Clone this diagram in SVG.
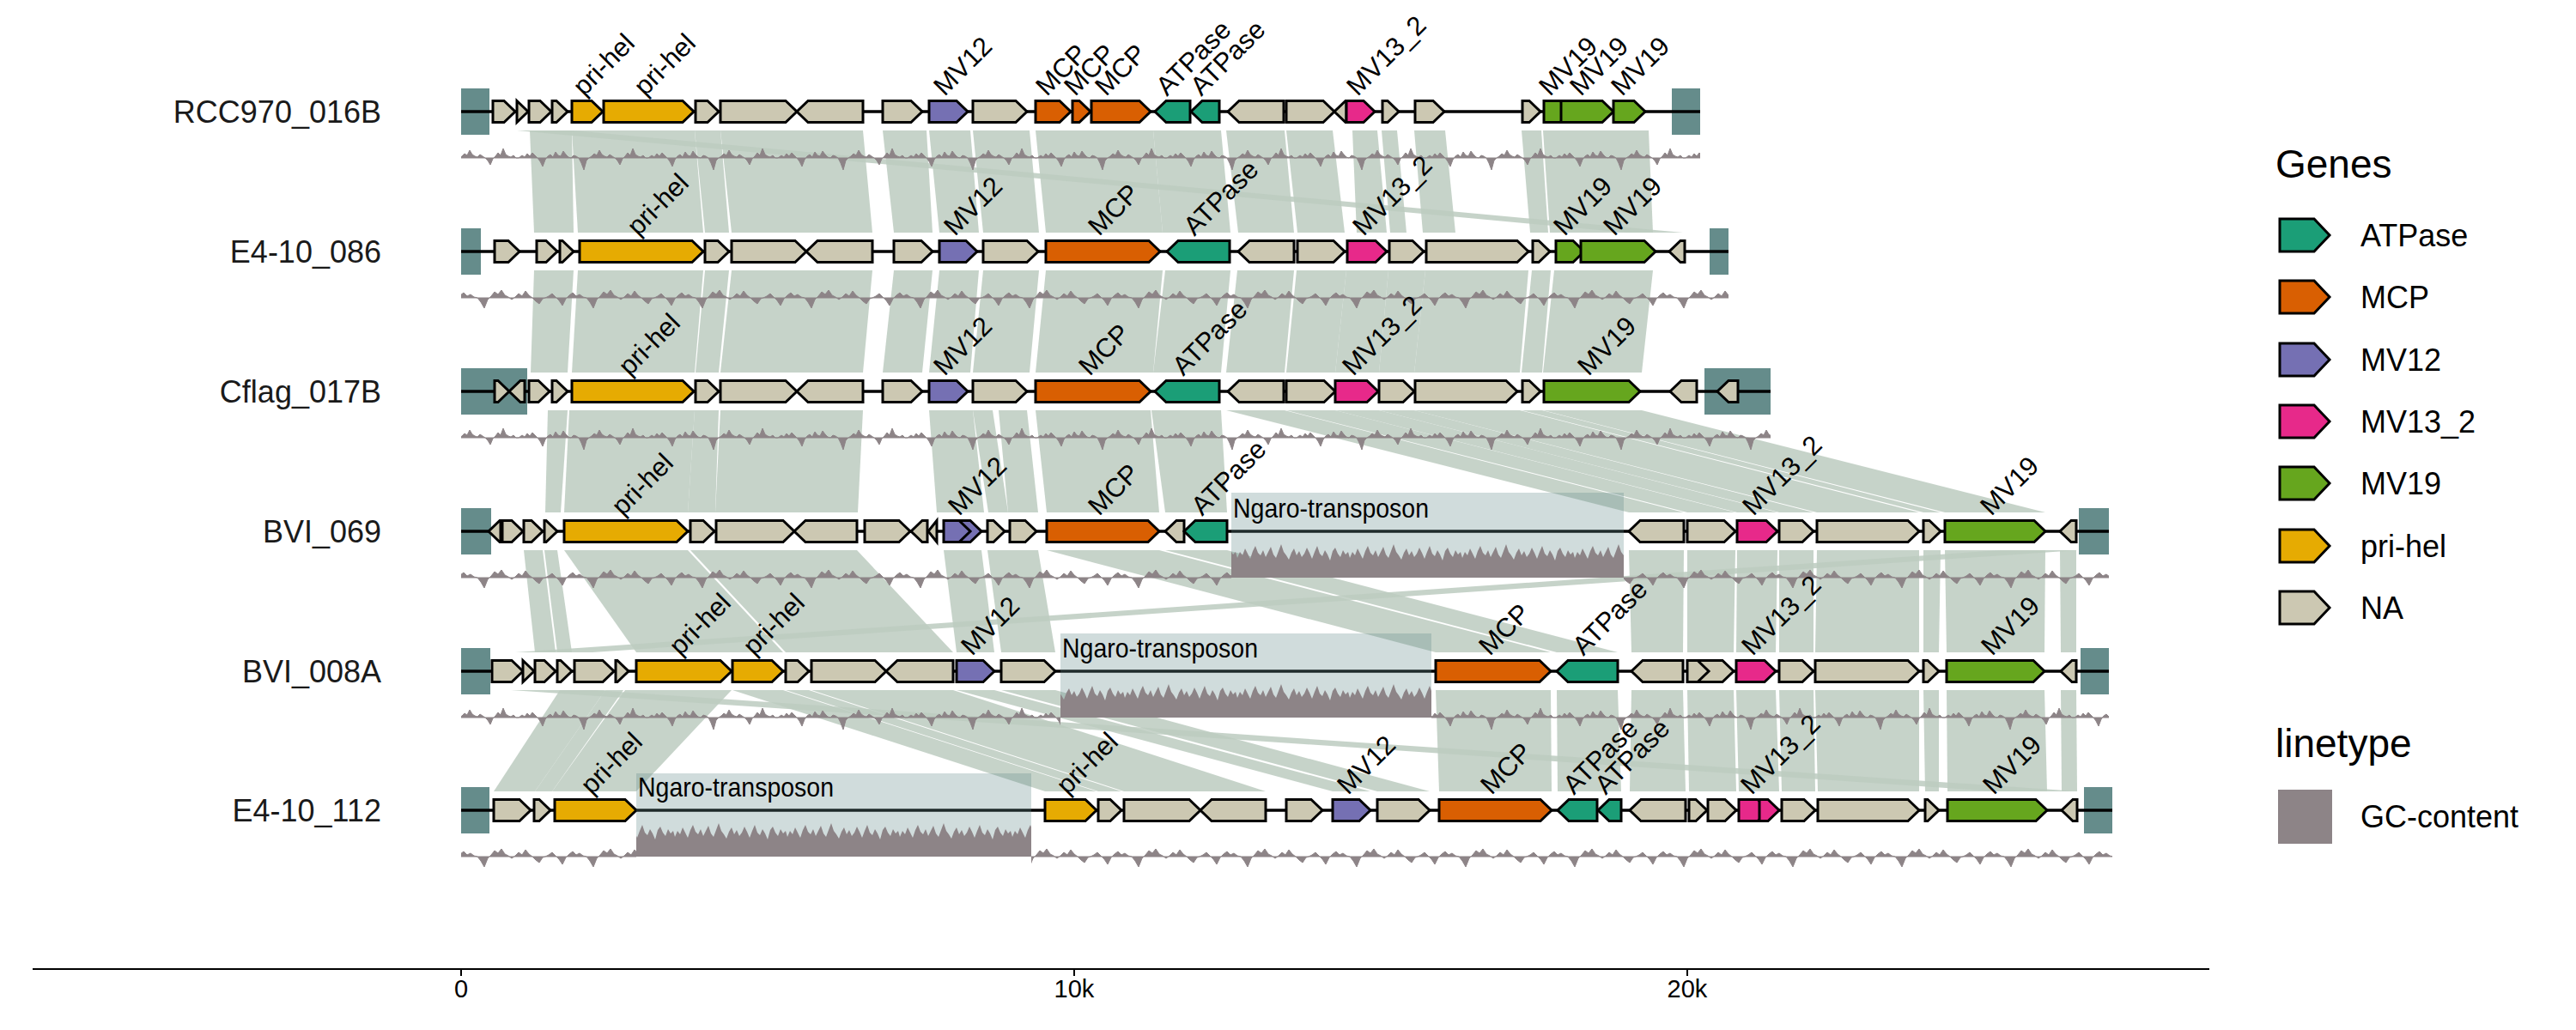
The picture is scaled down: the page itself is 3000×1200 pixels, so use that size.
<svg xmlns="http://www.w3.org/2000/svg" width="3000" height="1200" viewBox="0 0 3000 1200">
<style>
.g{stroke:#000;stroke-width:3;stroke-linejoin:miter}
.na{fill:#ccc8b2}.pri{fill:#e6ab02}.mv12{fill:#7570b3}.mcp{fill:#d95f02}.atp{fill:#1b9e77}.mv13{fill:#e7298a}.mv19{fill:#66a61e}
.seq{stroke:#000;stroke-width:3.5}
.end{fill:#658c8b}
.ngaro{fill:#658c8b;fill-opacity:.3}
#links polygon{fill:#bccbbf;fill-opacity:.85}
.tag{font-family:"Liberation Sans",Arial,sans-serif;font-size:31px;fill:#000}
.ntag{font-family:"Liberation Sans",Arial,sans-serif;font-size:32px;fill:#000}
.lbl{font-family:"Liberation Sans",Arial,sans-serif;font-size:36px;fill:#1a1a1a;text-anchor:end}
.leg{font-family:"Liberation Sans",Arial,sans-serif;font-size:36px;fill:#000}
.legt{font-family:"Liberation Sans",Arial,sans-serif;font-size:46px;fill:#000}
.ax{font-family:"Liberation Sans",Arial,sans-serif;font-size:29px;fill:#000;text-anchor:middle}
</style>
<defs>
<pattern id="gcA" patternUnits="userSpaceOnUse" x="0" y="-40" width="151" height="80">
<path d="M0,40 L4,37 7,39 10,35 13,38 16,34 19,37 22,40 25,44 28,50 31,42 34,38 37,36 40,39 43,33 46,37 49,38 52,32 55,36 58,39 61,40 64,37 67,38 70,40 73,46 76,54 79,43 82,40 85,38 88,35 91,37 94,31 97,36 100,38 103,39 106,36 109,38 112,40 115,43 118,48 121,41 124,38 127,34 130,37 133,29 136,36 139,38 142,39 145,37 148,40 151,40 Z" fill="#8d8487" stroke="#8d8487" stroke-width="1"/>
</pattern>
<pattern id="gcB" patternUnits="userSpaceOnUse" x="0" y="-40" width="127" height="80">
<path d="M0,40 L4,38 8,35 12,39 16,43 20,49 24,41 28,37 32,34 36,38 40,36 44,39 48,40 52,45 56,52 60,42 64,38 68,33 72,36 76,31 80,37 84,39 88,42 92,39 96,35 100,38 104,32 108,37 112,40 116,44 120,47 124,41 127,40 Z" fill="#8d8487" stroke="#8d8487" stroke-width="1"/>
</pattern>
<pattern id="gcH" patternUnits="userSpaceOnUse" x="0" y="-40" width="131" height="80">
<path d="M0,40 L0,17 3,10 6,14 9,6 12,12 15,18 18,9 21,3 24,11 27,14 30,8 33,16 36,10 39,4 42,13 45,17 48,9 51,1 54,10 57,14 60,19 63,11 66,6 69,14 72,9 75,16 78,12 81,5 84,11 87,18 90,10 93,3 96,12 99,15 102,8 105,13 108,20 111,9 114,5 117,12 120,16 123,8 126,13 129,10 131,17 131,40 Z" fill="#8d8487"/>
</pattern>
</defs>
<rect width="3000" height="1200" fill="#fff"/>

<g id="links">
<polygon points="617,152 666,152 668,271 622,271"/>
<polygon points="666,152 809,152 819,271 673,271"/>
<polygon points="809,152 839,152 849,271 821,271"/>
<polygon points="839,152 1005,152 1016,271 852,271"/>
<polygon points="1028,152 1079,152 1086,271 1041,271"/>
<polygon points="1082,152 1130,152 1140,271 1094,271"/>
<polygon points="1133,152 1199,152 1210,271 1145,271"/>
<polygon points="1206,152 1343,152 1354,271 1218,271"/>
<polygon points="1343,152 1422,152 1433,271 1354,271"/>
<polygon points="1428,152 1496,152 1507,271 1442,271"/>
<polygon points="1498,152 1552,152 1566,271 1511,271"/>
<polygon points="1575,152 1604,152 1615,271 1580,271"/>
<polygon points="1609,152 1627,152 1638,271 1619,271"/>
<polygon points="1647,152 1683,152 1695,271 1657,271"/>
<polygon points="1772,152 1795,152 1803,271 1782,271"/>
<polygon points="1797,152 1920,152 1925,271 1805,271"/>
<polygon points="602,152 667,152 1960,271 1895,271"/>

<polygon points="622,315 668,315 661,434 618,434"/>
<polygon points="673,315 819,315 809,434 666,434"/>
<polygon points="821,315 849,315 837,434 810,434"/>
<polygon points="852,315 1016,315 1005,434 839,434"/>
<polygon points="1041,315 1086,315 1074,434 1028,434"/>
<polygon points="1094,315 1140,315 1130,434 1082,434"/>
<polygon points="1145,315 1210,315 1199,434 1133,434"/>
<polygon points="1218,315 1354,315 1343,434 1206,434"/>
<polygon points="1357,315 1433,315 1422,434 1343,434"/>
<polygon points="1441,315 1507,315 1496,434 1428,434"/>
<polygon points="1510,315 1568,315 1555,434 1498,434"/>
<polygon points="1568,315 1617,315 1606,434 1555,434"/>
<polygon points="1617,315 1660,315 1647,434 1606,434"/>
<polygon points="1660,315 1780,315 1770,434 1647,434"/>
<polygon points="1784,315 1806,315 1796,434 1772,434"/>
<polygon points="1810,315 1925,315 1912,434 1797,434"/>

<polygon points="638,478 661,478 653,597 635,597"/>
<polygon points="663,478 809,478 801,597 657,597"/>
<polygon points="809,478 837,478 833,597 801,597"/>
<polygon points="839,478 1005,478 999,597 833,597"/>
<polygon points="1082,478 1133,478 1146,597 1091,597"/>
<polygon points="1133,478 1156,478 1174,597 1151,597"/>
<polygon points="1163,478 1196,478 1209,597 1174,597"/>
<polygon points="1206,478 1340,478 1350,597 1219,597"/>
<polygon points="1341,478 1422,478 1429,597 1357,597"/>
<polygon points="1428,478 1496,478 1961,597 1897,597"/>
<polygon points="1498,478 1555,478 2021,597 1965,597"/>
<polygon points="1555,478 1606,478 2070,597 2023,597"/>
<polygon points="1606,478 1647,478 2112,597 2072,597"/>
<polygon points="1647,478 1770,478 2235,597 2116,597"/>
<polygon points="1772,478 1796,478 2260,597 2240,597"/>
<polygon points="1797,478 1912,478 2382,597 2265,597"/>

<polygon points="610,641 632,641 647,760 623,760"/>
<polygon points="634,641 649,641 666,760 649,760"/>
<polygon points="657,641 801,641 912,760 741,760"/>
<polygon points="804,641 998,641 1110,760 915,760"/>
<polygon points="1099,641 1143,641 1158,760 1114,760"/>
<polygon points="1150,641 1209,641 1229,760 1166,760"/>
<polygon points="1219,641 1350,641 1806,760 1672,760"/>
<polygon points="1357,641 1429,641 1884,760 1813,760"/>
<polygon points="1897,641 1961,641 1960,760 1900,760"/>
<polygon points="1965,641 2021,641 2019,760 1965,760"/>
<polygon points="2023,641 2070,641 2068,760 2022,760"/>
<polygon points="2072,641 2112,641 2112,760 2072,760"/>
<polygon points="2116,641 2235,641 2235,760 2114,760"/>
<polygon points="2240,641 2260,641 2258,760 2240,760"/>
<polygon points="2265,641 2382,641 2381,760 2267,760"/>
<polygon points="2399,641 2418,641 2418,760 2400,760"/>
<polygon points="2330,641 2420,641 690,760 600,760"/>

<polygon points="652,804 705,804 623,922 575,922"/>
<polygon points="705,804 726,804 643,922 623,922"/>
<polygon points="728,804 852,804 741,922 643,922"/>
<polygon points="853,804 912,804 1277,922 1217,922"/>
<polygon points="915,804 942,804 1306,922 1279,922"/>
<polygon points="945,804 1110,804 1474,922 1309,922"/>
<polygon points="1114,804 1158,804 1596,922 1552,922"/>
<polygon points="1166,804 1229,804 1665,922 1604,922"/>
<polygon points="1672,804 1806,804 1807,922 1676,922"/>
<polygon points="1813,804 1884,804 1888,922 1814,922"/>
<polygon points="1900,804 1960,804 1963,922 1898,922"/>
<polygon points="1965,804 2019,804 2022,922 1967,922"/>
<polygon points="2022,804 2068,804 2072,922 2025,922"/>
<polygon points="2072,804 2112,804 2114,922 2075,922"/>
<polygon points="2114,804 2235,804 2235,922 2117,922"/>
<polygon points="2240,804 2258,804 2258,922 2242,922"/>
<polygon points="2267,804 2381,804 2384,922 2268,922"/>
<polygon points="2400,804 2418,804 2419,922 2401,922"/>
<polygon points="595,804 690,804 2420,922 2325,922"/>
</g>

<g id="RCC970_016B">
<text class="lbl" x="444" y="143">RCC970_016B</text>
<g transform="translate(0,130)">
<rect class="end" x="537" y="-27" width="33" height="54"/>
<rect class="end" x="1947" y="-27" width="33" height="54"/>
<line class="seq" x1="537" y1="0" x2="1980" y2="0"/>
<path class="g na" d="M574,-12.5h13l13,12.5l-13,12.5h-13z"/>
<path class="g na" d="M602,-12.5l13,12.5l-13,12.5z"/>
<path class="g na" d="M616,-12.5h13l13,12.5l-13,12.5h-13z"/>
<path class="g na" d="M643,-12.5h5l13,12.5l-13,12.5h-5z"/>
<path class="g pri" d="M666,-12.5h23l13,12.5l-13,12.5h-23z"/>
<path class="g pri" d="M703,-12.5h92l13,12.5l-13,12.5h-92z"/>
<path class="g na" d="M810,-12.5h14l13,12.5l-13,12.5h-14z"/>
<path class="g na" d="M839,-12.5h76l13,12.5l-13,12.5h-76z"/>
<path class="g na" d="M1005,-12.5h-64l-13,12.5l13,12.5h64z"/>
<path class="g na" d="M1028,-12.5h33l13,12.5l-13,12.5h-33z"/>
<path class="g mv12" d="M1082,-12.5h32l13,12.5l-13,12.5h-32z"/>
<path class="g na" d="M1133,-12.5h50l13,12.5l-13,12.5h-50z"/>
<path class="g mcp" d="M1206,-12.5h28l13,12.5l-13,12.5h-28z"/>
<path class="g mcp" d="M1249,-12.5h8l13,12.5l-13,12.5h-8z"/>
<path class="g mcp" d="M1271,-12.5h56l13,12.5l-13,12.5h-56z"/>
<path class="g atp" d="M1386,-12.5h-28l-13,12.5l13,12.5h28z"/>
<path class="g atp" d="M1420,-12.5h-20l-13,12.5l13,12.5h20z"/>
<path class="g na" d="M1495,-12.5h-52l-13,12.5l13,12.5h52z"/>
<path class="g na" d="M1498,-12.5h43l13,12.5l-13,12.5h-43z"/>
<path class="g na" d="M1568,-12.5h-1l-13,12.5l13,12.5h1z"/>
<path class="g mv13" d="M1568,-12.5h20l13,12.5l-13,12.5h-20z"/>
<path class="g na" d="M1610,-12.5h6l13,12.5l-13,12.5h-6z"/>
<path class="g na" d="M1648,-12.5h21l13,12.5l-13,12.5h-21z"/>
<path class="g na" d="M1773,-12.5h8l13,12.5l-13,12.5h-8z"/>
<path class="g mv19" d="M1798,-12.5h19l13,12.5l-13,12.5h-19z"/>
<path class="g mv19" d="M1818,-12.5h48l13,12.5l-13,12.5h-48z"/>
<path class="g mv19" d="M1879,-12.5h24l13,12.5l-13,12.5h-24z"/>
</g>
<g transform="translate(0,184)"><rect x="537" y="-40" width="1443" height="80" fill="url(#gcA)"/></g>
<text class="tag" transform="translate(680,113) rotate(-45)">pri-hel</text>
<text class="tag" transform="translate(751,113) rotate(-45)">pri-hel</text>
<text class="tag" transform="translate(1100,113) rotate(-45)">MV12</text>
<text class="tag" transform="translate(1219,113) rotate(-45)">MCP</text>
<text class="tag" transform="translate(1252,113) rotate(-45)">MCP</text>
<text class="tag" transform="translate(1288,113) rotate(-45)">MCP</text>
<text class="tag" transform="translate(1359,113) rotate(-45)">ATPase</text>
<text class="tag" transform="translate(1399,113) rotate(-45)">ATPase</text>
<text class="tag" transform="translate(1581,113) rotate(-45)">MV13_2</text>
<text class="tag" transform="translate(1805,113) rotate(-45)">MV19</text>
<text class="tag" transform="translate(1841,113) rotate(-45)">MV19</text>
<text class="tag" transform="translate(1889,113) rotate(-45)">MV19</text>
</g>

<g id="E4-10_086">
<text class="lbl" x="444" y="306">E4-10_086</text>
<g transform="translate(0,293)">
<rect class="end" x="537" y="-27" width="23" height="54"/>
<rect class="end" x="1991" y="-27" width="22" height="54"/>
<line class="seq" x1="537" y1="0" x2="2013" y2="0"/>
<path class="g na" d="M576,-12.5h16l13,12.5l-13,12.5h-16z"/>
<path class="g na" d="M625,-12.5h11l13,12.5l-13,12.5h-11z"/>
<path class="g na" d="M652,-12.5h3l13,12.5l-13,12.5h-3z"/>
<path class="g pri" d="M675,-12.5h131l13,12.5l-13,12.5h-131z"/>
<path class="g na" d="M821,-12.5h15l13,12.5l-13,12.5h-15z"/>
<path class="g na" d="M852,-12.5h74l13,12.5l-13,12.5h-74z"/>
<path class="g na" d="M1016,-12.5h-64l-13,12.5l13,12.5h64z"/>
<path class="g na" d="M1041,-12.5h32l13,12.5l-13,12.5h-32z"/>
<path class="g mv12" d="M1094,-12.5h31l13,12.5l-13,12.5h-31z"/>
<path class="g na" d="M1145,-12.5h51l13,12.5l-13,12.5h-51z"/>
<path class="g mcp" d="M1218,-12.5h120l13,12.5l-13,12.5h-120z"/>
<path class="g atp" d="M1432,-12.5h-60l-13,12.5l13,12.5h60z"/>
<path class="g na" d="M1507,-12.5h-52l-13,12.5l13,12.5h52z"/>
<path class="g na" d="M1511,-12.5h42l13,12.5l-13,12.5h-42z"/>
<path class="g mv13" d="M1569,-12.5h33l13,12.5l-13,12.5h-33z"/>
<path class="g na" d="M1618,-12.5h27l13,12.5l-13,12.5h-27z"/>
<path class="g na" d="M1661,-12.5h106l13,12.5l-13,12.5h-106z"/>
<path class="g na" d="M1785,-12.5h7l13,12.5l-13,12.5h-7z"/>
<path class="g mv19" d="M1812,-12.5h20l13,12.5l-13,12.5h-20z"/>
<path class="g mv19" d="M1841,-12.5h74l13,12.5l-13,12.5h-74z"/>
<path class="g na" d="M1962,-12.5h-5l-13,12.5l13,12.5h5z"/>
</g>
<g transform="translate(0,347)"><rect x="537" y="-40" width="1476" height="80" fill="url(#gcB)"/></g>
<text class="tag" transform="translate(743,276) rotate(-45)">pri-hel</text>
<text class="tag" transform="translate(1112,276) rotate(-45)">MV12</text>
<text class="tag" transform="translate(1280,276) rotate(-45)">MCP</text>
<text class="tag" transform="translate(1391,276) rotate(-45)">ATPase</text>
<text class="tag" transform="translate(1588,276) rotate(-45)">MV13_2</text>
<text class="tag" transform="translate(1822,276) rotate(-45)">MV19</text>
<text class="tag" transform="translate(1880,276) rotate(-45)">MV19</text>
</g>

<g id="Cflag_017B">
<text class="lbl" x="444" y="469">Cflag_017B</text>
<g transform="translate(0,456)">
<rect class="end" x="537" y="-27" width="77" height="54"/>
<rect class="end" x="1985" y="-27" width="77" height="54"/>
<line class="seq" x1="537" y1="0" x2="2062" y2="0"/>
<path class="g na" d="M576,-12.5h4l13,12.5l-13,12.5h-4z"/>
<path class="g na" d="M611,-12.5h-5l-13,12.5l13,12.5h5z"/>
<path class="g na" d="M616,-12.5h11l13,12.5l-13,12.5h-11z"/>
<path class="g na" d="M643,-12.5h5l13,12.5l-13,12.5h-5z"/>
<path class="g pri" d="M666,-12.5h129l13,12.5l-13,12.5h-129z"/>
<path class="g na" d="M810,-12.5h14l13,12.5l-13,12.5h-14z"/>
<path class="g na" d="M839,-12.5h76l13,12.5l-13,12.5h-76z"/>
<path class="g na" d="M1005,-12.5h-64l-13,12.5l13,12.5h64z"/>
<path class="g na" d="M1028,-12.5h33l13,12.5l-13,12.5h-33z"/>
<path class="g mv12" d="M1082,-12.5h32l13,12.5l-13,12.5h-32z"/>
<path class="g na" d="M1133,-12.5h50l13,12.5l-13,12.5h-50z"/>
<path class="g mcp" d="M1206,-12.5h121l13,12.5l-13,12.5h-121z"/>
<path class="g atp" d="M1420,-12.5h-62l-13,12.5l13,12.5h62z"/>
<path class="g na" d="M1495,-12.5h-52l-13,12.5l13,12.5h52z"/>
<path class="g na" d="M1498,-12.5h44l13,12.5l-13,12.5h-44z"/>
<path class="g mv13" d="M1555,-12.5h37l13,12.5l-13,12.5h-37z"/>
<path class="g na" d="M1606,-12.5h28l13,12.5l-13,12.5h-28z"/>
<path class="g na" d="M1648,-12.5h106l13,12.5l-13,12.5h-106z"/>
<path class="g na" d="M1773,-12.5h8l13,12.5l-13,12.5h-8z"/>
<path class="g mv19" d="M1798,-12.5h99l13,12.5l-13,12.5h-99z"/>
<path class="g na" d="M1976,-12.5h-18l-13,12.5l13,12.5h18z"/>
<path class="g na" d="M2024,-12.5h-11l-13,12.5l13,12.5h11z"/>
</g>
<g transform="translate(0,510)"><rect x="537" y="-40" width="1525" height="80" fill="url(#gcA)"/></g>
<text class="tag" transform="translate(733,439) rotate(-45)">pri-hel</text>
<text class="tag" transform="translate(1100,439) rotate(-45)">MV12</text>
<text class="tag" transform="translate(1269,439) rotate(-45)">MCP</text>
<text class="tag" transform="translate(1378,439) rotate(-45)">ATPase</text>
<text class="tag" transform="translate(1576,439) rotate(-45)">MV13_2</text>
<text class="tag" transform="translate(1850,439) rotate(-45)">MV19</text>
</g>

<g id="BVI_069">
<text class="lbl" x="444" y="632">BVI_069</text>
<g transform="translate(0,619)">
<rect class="end" x="537" y="-27" width="35" height="54"/>
<rect class="end" x="2421" y="-27" width="35" height="54"/>
<line class="seq" x1="537" y1="0" x2="2456" y2="0"/>
<path class="g na" d="M583,-12.5h-1l-13,12.5l13,12.5h1z"/>
<path class="g na" d="M585,-12.5h11l13,12.5l-13,12.5h-11z"/>
<path class="g na" d="M610,-12.5h9l13,12.5l-13,12.5h-9z"/>
<path class="g na" d="M634,-12.5h2l13,12.5l-13,12.5h-2z"/>
<path class="g pri" d="M657,-12.5h131l13,12.5l-13,12.5h-131z"/>
<path class="g na" d="M804,-12.5h15l13,12.5l-13,12.5h-15z"/>
<path class="g na" d="M834,-12.5h78l13,12.5l-13,12.5h-78z"/>
<path class="g na" d="M998,-12.5h-60l-13,12.5l13,12.5h60z"/>
<path class="g na" d="M1007,-12.5h40l13,12.5l-13,12.5h-40z"/>
<path class="g na" d="M1080,-12.5h-6l-13,12.5l13,12.5h6z"/>
<path class="g na" d="M1091,-12.5l-10,12.5l10,12.5z"/>
<path class="g mv12" d="M1110,-12.5h20l13,12.5l-13,12.5h-20z"/>
<path class="g mv12" d="M1099,-12.5h18l13,12.5l-13,12.5h-18z"/>
<path class="g na" d="M1150,-12.5h7l13,12.5l-13,12.5h-7z"/>
<path class="g na" d="M1176,-12.5h18l13,12.5l-13,12.5h-18z"/>
<path class="g mcp" d="M1219,-12.5h118l13,12.5l-13,12.5h-118z"/>
<path class="g na" d="M1379,-12.5h-9l-13,12.5l13,12.5h9z"/>
<path class="g atp" d="M1429,-12.5h-37l-13,12.5l13,12.5h37z"/>
<path class="g na" d="M1961,-12.5h-51l-13,12.5l13,12.5h51z"/>
<path class="g na" d="M1965,-12.5h43l13,12.5l-13,12.5h-43z"/>
<path class="g mv13" d="M2023,-12.5h34l13,12.5l-13,12.5h-34z"/>
<path class="g na" d="M2072,-12.5h27l13,12.5l-13,12.5h-27z"/>
<path class="g na" d="M2116,-12.5h106l13,12.5l-13,12.5h-106z"/>
<path class="g na" d="M2240,-12.5h7l13,12.5l-13,12.5h-7z"/>
<path class="g mv19" d="M2265,-12.5h104l13,12.5l-13,12.5h-104z"/>
<path class="g na" d="M2418,-12.5h-6l-13,12.5l13,12.5h6z"/>
</g>
<rect class="ngaro" x="1434" y="574" width="457" height="99"/>
<g transform="translate(0,673)">
<rect x="537" y="-40" width="897" height="80" fill="url(#gcB)"/>
<rect x="1434" y="-40" width="457" height="80" fill="url(#gcH)"/>
<rect x="1891" y="-40" width="565" height="80" fill="url(#gcB)"/>
</g>
<text class="ntag" x="1436" y="603" textLength="228" lengthAdjust="spacingAndGlyphs">Ngaro-transposon</text>
<text class="tag" transform="translate(725,602) rotate(-45)">pri-hel</text>
<text class="tag" transform="translate(1117,602) rotate(-45)">MV12</text>
<text class="tag" transform="translate(1280,602) rotate(-45)">MCP</text>
<text class="tag" transform="translate(1400,602) rotate(-45)">ATPase</text>
<text class="tag" transform="translate(2042,602) rotate(-45)">MV13_2</text>
<text class="tag" transform="translate(2319,602) rotate(-45)">MV19</text>
</g>

<g id="BVI_008A">
<text class="lbl" x="444" y="795">BVI_008A</text>
<g transform="translate(0,782)">
<rect class="end" x="537" y="-27" width="34" height="54"/>
<rect class="end" x="2423" y="-27" width="33" height="54"/>
<line class="seq" x1="537" y1="0" x2="2456" y2="0"/>
<path class="g na" d="M573,-12.5h23l13,12.5l-13,12.5h-23z"/>
<path class="g na" d="M609,-12.5l13,12.5l-13,12.5z"/>
<path class="g na" d="M623,-12.5h11l13,12.5l-13,12.5h-11z"/>
<path class="g na" d="M649,-12.5h4l13,12.5l-13,12.5h-4z"/>
<path class="g na" d="M669,-12.5h33l13,12.5l-13,12.5h-33z"/>
<path class="g na" d="M717,-12.5h2l13,12.5l-13,12.5h-2z"/>
<path class="g pri" d="M741,-12.5h98l13,12.5l-13,12.5h-98z"/>
<path class="g pri" d="M853,-12.5h46l13,12.5l-13,12.5h-46z"/>
<path class="g na" d="M915,-12.5h14l13,12.5l-13,12.5h-14z"/>
<path class="g na" d="M945,-12.5h74l13,12.5l-13,12.5h-74z"/>
<path class="g na" d="M1110,-12.5h-65l-13,12.5l13,12.5h65z"/>
<path class="g mv12" d="M1114,-12.5h31l13,12.5l-13,12.5h-31z"/>
<path class="g na" d="M1166,-12.5h50l13,12.5l-13,12.5h-50z"/>
<path class="g mcp" d="M1672,-12.5h121l13,12.5l-13,12.5h-121z"/>
<path class="g atp" d="M1884,-12.5h-58l-13,12.5l13,12.5h58z"/>
<path class="g na" d="M1960,-12.5h-47l-13,12.5l13,12.5h47z"/>
<path class="g na" d="M1975,-12.5h31l13,12.5l-13,12.5h-31z"/>
<path class="g na" d="M1965,-12.5h12l13,12.5l-13,12.5h-12z"/>
<path class="g mv13" d="M2022,-12.5h33l13,12.5l-13,12.5h-33z"/>
<path class="g na" d="M2072,-12.5h27l13,12.5l-13,12.5h-27z"/>
<path class="g na" d="M2114,-12.5h108l13,12.5l-13,12.5h-108z"/>
<path class="g na" d="M2240,-12.5h5l13,12.5l-13,12.5h-5z"/>
<path class="g mv19" d="M2267,-12.5h101l13,12.5l-13,12.5h-101z"/>
<path class="g na" d="M2418,-12.5h-5l-13,12.5l13,12.5h5z"/>
</g>
<rect class="ngaro" x="1235" y="738" width="432" height="98"/>
<g transform="translate(0,836)">
<rect x="537" y="-40" width="698" height="80" fill="url(#gcA)"/>
<rect x="1235" y="-40" width="432" height="80" fill="url(#gcH)"/>
<rect x="1667" y="-40" width="789" height="80" fill="url(#gcA)"/>
</g>
<text class="ntag" x="1237" y="766" textLength="228" lengthAdjust="spacingAndGlyphs">Ngaro-transposon</text>
<text class="tag" transform="translate(792,765) rotate(-45)">pri-hel</text>
<text class="tag" transform="translate(878,765) rotate(-45)">pri-hel</text>
<text class="tag" transform="translate(1132,765) rotate(-45)">MV12</text>
<text class="tag" transform="translate(1735,765) rotate(-45)">MCP</text>
<text class="tag" transform="translate(1844,765) rotate(-45)">ATPase</text>
<text class="tag" transform="translate(2041,765) rotate(-45)">MV13_2</text>
<text class="tag" transform="translate(2320,765) rotate(-45)">MV19</text>
</g>

<g id="E4-10_112">
<text class="lbl" x="444" y="957">E4-10_112</text>
<g transform="translate(0,944)">
<rect class="end" x="537" y="-27" width="33" height="54"/>
<rect class="end" x="2427" y="-27" width="33" height="54"/>
<line class="seq" x1="537" y1="0" x2="2460" y2="0"/>
<path class="g na" d="M575,-12.5h30l13,12.5l-13,12.5h-30z"/>
<path class="g na" d="M622,-12.5h6l13,12.5l-13,12.5h-6z"/>
<path class="g pri" d="M646,-12.5h82l13,12.5l-13,12.5h-82z"/>
<path class="g pri" d="M1217,-12.5h47l13,12.5l-13,12.5h-47z"/>
<path class="g na" d="M1279,-12.5h14l13,12.5l-13,12.5h-14z"/>
<path class="g na" d="M1309,-12.5h76l13,12.5l-13,12.5h-76z"/>
<path class="g na" d="M1474,-12.5h-63l-13,12.5l13,12.5h63z"/>
<path class="g na" d="M1498,-12.5h29l13,12.5l-13,12.5h-29z"/>
<path class="g mv12" d="M1552,-12.5h31l13,12.5l-13,12.5h-31z"/>
<path class="g na" d="M1604,-12.5h48l13,12.5l-13,12.5h-48z"/>
<path class="g mcp" d="M1676,-12.5h118l13,12.5l-13,12.5h-118z"/>
<path class="g atp" d="M1860,-12.5h-33l-13,12.5l13,12.5h33z"/>
<path class="g atp" d="M1888,-12.5h-14l-13,12.5l13,12.5h14z"/>
<path class="g na" d="M1963,-12.5h-52l-13,12.5l13,12.5h52z"/>
<path class="g na" d="M1967,-12.5h8l13,12.5l-13,12.5h-8z"/>
<path class="g na" d="M1989,-12.5h20l13,12.5l-13,12.5h-20z"/>
<path class="g mv13" d="M2025,-12.5h22l13,12.5l-13,12.5h-22z"/>
<path class="g mv13" d="M2049,-12.5h10l13,12.5l-13,12.5h-10z"/>
<path class="g na" d="M2075,-12.5h26l13,12.5l-13,12.5h-26z"/>
<path class="g na" d="M2117,-12.5h105l13,12.5l-13,12.5h-105z"/>
<path class="g na" d="M2242,-12.5h3l13,12.5l-13,12.5h-3z"/>
<path class="g mv19" d="M2268,-12.5h103l13,12.5l-13,12.5h-103z"/>
<path class="g na" d="M2419,-12.5h-5l-13,12.5l13,12.5h5z"/>
</g>
<rect class="ngaro" x="741" y="901" width="460" height="97"/>
<g transform="translate(0,998)">
<rect x="537" y="-40" width="204" height="80" fill="url(#gcB)"/>
<rect x="741" y="-40" width="460" height="80" fill="url(#gcH)"/>
<rect x="1201" y="-40" width="1259" height="80" fill="url(#gcB)"/>
</g>
<text class="ntag" x="743" y="928" textLength="228" lengthAdjust="spacingAndGlyphs">Ngaro-transposon</text>
<text class="tag" transform="translate(689,927) rotate(-45)">pri-hel</text>
<text class="tag" transform="translate(1243,927) rotate(-45)">pri-hel</text>
<text class="tag" transform="translate(1570,927) rotate(-45)">MV12</text>
<text class="tag" transform="translate(1737,927) rotate(-45)">MCP</text>
<text class="tag" transform="translate(1833,927) rotate(-45)">ATPase</text>
<text class="tag" transform="translate(1870,927) rotate(-45)">ATPase</text>
<text class="tag" transform="translate(2040,927) rotate(-45)">MV13_2</text>
<text class="tag" transform="translate(2322,927) rotate(-45)">MV19</text>
</g>

<g id="axis">
<line x1="38" y1="1129" x2="2573" y2="1129" stroke="#000" stroke-width="2"/>
<line x1="537" y1="1129" x2="537" y2="1137" stroke="#000" stroke-width="2"/>
<line x1="1251" y1="1129" x2="1251" y2="1137" stroke="#000" stroke-width="2"/>
<line x1="1965" y1="1129" x2="1965" y2="1137" stroke="#000" stroke-width="2"/>
<text class="ax" x="537" y="1162">0</text>
<text class="ax" x="1251" y="1162">10k</text>
<text class="ax" x="1965" y="1162">20k</text>
</g>

<g id="legend">
<text class="legt" x="2650" y="207">Genes</text>
<path class="g atp" d="M2655,255h40l18,19l-18,19h-40z"/>
<path class="g mcp" d="M2655,327h40l18,19l-18,19h-40z"/>
<path class="g mv12" d="M2655,400h40l18,19l-18,19h-40z"/>
<path class="g mv13" d="M2655,472h40l18,19l-18,19h-40z"/>
<path class="g mv19" d="M2655,544h40l18,19l-18,19h-40z"/>
<path class="g pri" d="M2655,617h40l18,19l-18,19h-40z"/>
<path class="g na" d="M2655,689h40l18,19l-18,19h-40z"/>
<text class="leg" x="2749" y="287">ATPase</text>
<text class="leg" x="2749" y="359">MCP</text>
<text class="leg" x="2749" y="432">MV12</text>
<text class="leg" x="2749" y="504">MV13_2</text>
<text class="leg" x="2749" y="576">MV19</text>
<text class="leg" x="2749" y="649">pri-hel</text>
<text class="leg" x="2749" y="721">NA</text>
<text class="legt" x="2650" y="882">linetype</text>
<rect x="2653" y="920" width="63" height="63" fill="#8d8487"/>
<text class="leg" x="2749" y="964">GC-content</text>
</g>
</svg>
